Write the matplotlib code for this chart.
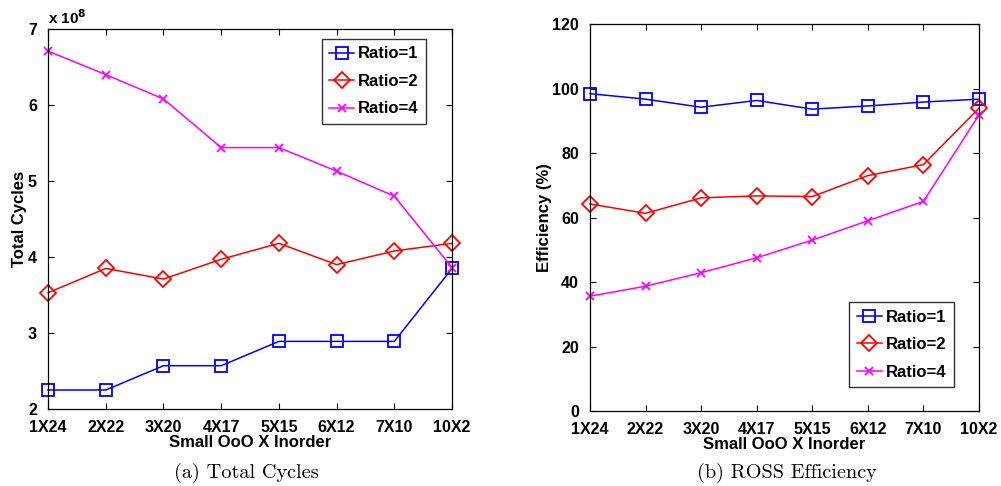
import matplotlib.pyplot as plt

# x categories (small OoO cores X inorder cores)
configs = ['1X24', '2X22', '3X20', '4X17', '5X15', '6X12', '7X10', '10X2']

# (a) total cycles, in units of 1e8
cycles_r1 = [2.25, 2.25, 2.57, 2.57, 2.89, 2.89, 2.89, 3.85]
cycles_r2 = [3.53, 3.85, 3.71, 3.97, 4.18, 3.90, 4.08, 4.18]
cycles_r4 = [6.71, 6.40, 6.08, 5.44, 5.44, 5.13, 4.80, 3.86]

# (b) ROSS efficiency (%)
eff_r1 = [98.4, 96.7, 94.2, 96.3, 93.6, 94.6, 95.8, 96.7]
eff_r2 = [64.2, 61.3, 66.1, 66.7, 66.5, 73.0, 76.4, 93.9]
eff_r4 = [35.6, 38.7, 42.9, 47.5, 53.0, 59.0, 65.0, 91.8]

labels = ['Ratio=1', 'Ratio=2', 'Ratio=4']
colors = ['#0000ff', '#ff0000', '#ff00ff']
markers = ['s', 'D', 'x']
msizes = [8, 8, 6]

plt.rcParams['font.family'] = ['Liberation Sans', 'DejaVu Sans']
plt.rcParams['font.weight'] = 'bold'

fig = plt.figure(figsize=(10.01, 4.86), dpi=100)
ax1 = fig.add_axes([0.048, 0.1584, 0.4036, 0.7819])
ax2 = fig.add_axes([0.5894, 0.1543, 0.3886, 0.7963])

x = list(range(len(configs)))


def draw(ax, series, anchor, loc):
    for ys, lab, c, m, ms in zip(series, labels, colors, markers, msizes):
        ax.plot(x, ys, color=c, marker=m, markersize=ms, markerfacecolor='none',
                markeredgewidth=1.3, linewidth=1.1, label=lab, clip_on=False)
    ax.set_xlim(0, len(configs) - 1)
    ax.set_xticks(x)
    ax.set_xticklabels(configs, fontsize=11.5, fontweight='bold')
    ax.tick_params(direction='in', top=True, right=True, length=4, width=0.8,
                   labelsize=11.5, pad=8)
    ax.set_xlabel('Small OoO X Inorder', fontsize=12, fontweight='bold', labelpad=0)
    for s in ax.spines.values():
        s.set_linewidth(0.9)
    leg = ax.legend(loc=loc, bbox_to_anchor=anchor, borderaxespad=0,
                    fontsize=12, frameon=True, fancybox=False, edgecolor='black',
                    handlelength=1.5, handletextpad=0.25, borderpad=0.45,
                    labelspacing=0.75)
    leg.get_frame().set_linewidth(1.0)


draw(ax1, [cycles_r1, cycles_r2, cycles_r4], (0.936, 0.974), 'upper right')
ax1.set_ylim(2, 7)
ax1.set_yticks([2, 3, 4, 5, 6, 7])
ax1.set_ylabel('Total Cycles', fontsize=12, fontweight='bold', labelpad=1)
ax1.text(0.0, 1.005, 'x 10$^{8}$', transform=ax1.transAxes, fontsize=11,
         fontweight='bold', ha='left', va='bottom')

draw(ax2, [eff_r1, eff_r2, eff_r4], (0.936, 0.062), 'lower right')
ax2.set_ylim(0, 120)
ax2.set_yticks([0, 20, 40, 60, 80, 100, 120])
ax2.set_ylabel('Efficiency (%)', fontsize=12, fontweight='bold', labelpad=0)

fig.text(0.246, 0.027, '(a) Total Cycles', fontsize=14.6, family='cmr10',
         fontweight='normal', ha='center', va='center')
fig.text(0.786, 0.027, '(b) ROSS Efficiency', fontsize=14.6, family='cmr10',
         fontweight='normal', ha='center', va='center')

fig.savefig('out.png', dpi=100)
